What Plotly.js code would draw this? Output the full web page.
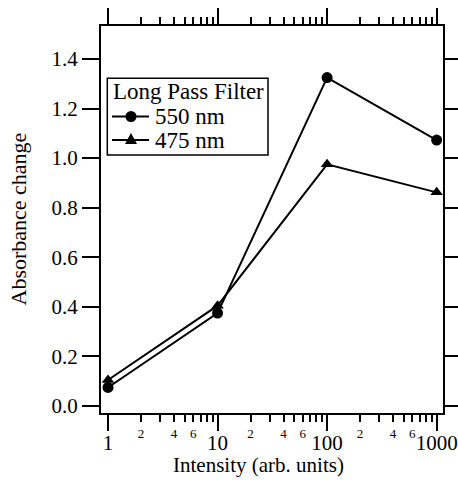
<!DOCTYPE html>
<html>
<head>
<meta charset="utf-8">
<script src="https://cdn.plot.ly/plotly-3.0.1.min.js"></script>
<style>html,body{margin:0;padding:0;background:#fff;}#chart{width:458px;height:489px;}</style>
</head>
<body>
<div id="chart"></div>
<script>
var intensity = [1, 10, 100, 1000];
var abs550 = [0.075, 0.375, 1.325, 1.073];
var abs475 = [0.105, 0.405, 0.975, 0.862];
var seriesNames = ['550 nm', '475 nm'];
var legendTitle = 'Long Pass Filter';
var yTicks = [0, 0.2, 0.4, 0.6, 0.8, 1.0, 1.2, 1.4];
var xMajorTicks = [1, 10, 100, 1000];
var xMajorLabels = ['1', '10', '100', '1000'];
var xMinorTicks = [2,3,4,5,6,7,8,9,20,30,40,50,60,70,80,90,200,300,400,500,600,700,800,900];
var xMinorLabels = ['2','','4','','6','','','','2','','4','','6','','','','2','','4','','6','','',''];

var FONT = '"Times New Roman", "Liberation Serif", serif';
var W = 458, H = 489, M = {l: 101, r: 15, t: 26, b: 76};
var PW = W - M.l - M.r, PH = H - M.t - M.b;
function px(x) { return (x - M.l) / PW; }
function py(y) { return (H - M.b - y) / PH; }

var traces = [
  {x: intensity, y: abs550, name: seriesNames[0], mode: 'lines+markers', type: 'scatter',
   line: {color: '#000', width: 2}, marker: {symbol: 'circle', size: 11, color: '#000'}},
  {x: intensity, y: abs475, name: seriesNames[1], mode: 'lines+markers', type: 'scatter',
   line: {color: '#000', width: 2}, marker: {symbol: 'triangle-up', size: 11, color: '#000'}},
  {x: intensity, y: abs550, xaxis: 'x2', mode: 'none', type: 'scatter', showlegend: false, hoverinfo: 'skip', opacity: 0},
  {x: intensity, y: abs550, xaxis: 'x3', mode: 'none', type: 'scatter', showlegend: false, hoverinfo: 'skip', opacity: 0}
];

// legend box (drawn by hand to match the tight line spacing of the original)
var shapes = [
  {type: 'rect', xref: 'paper', yref: 'paper', x0: px(107.3), x1: px(268), y0: py(155), y1: py(78.3),
   line: {color: '#000', width: 1.5}, fillcolor: '#fff', layer: 'above'},
  {type: 'line', xref: 'paper', yref: 'paper', x0: px(112), x1: px(149), y0: py(116.5), y1: py(116.5),
   line: {color: '#000', width: 2}, layer: 'above'},
  {type: 'circle', xref: 'paper', yref: 'paper', xsizemode: 'pixel', ysizemode: 'pixel',
   xanchor: px(131), yanchor: py(116.5), x0: -5.5, x1: 5.5, y0: -5.5, y1: 5.5,
   fillcolor: '#000', line: {color: '#000', width: 0}, layer: 'above'},
  {type: 'line', xref: 'paper', yref: 'paper', x0: px(112), x1: px(149), y0: py(140), y1: py(140),
   line: {color: '#000', width: 2}, layer: 'above'},
  {type: 'path', xref: 'paper', yref: 'paper', xsizemode: 'pixel', ysizemode: 'pixel',
   xanchor: px(131), yanchor: py(140), path: 'M-6,-4 L6,-4 L0,7 Z',
   fillcolor: '#000', line: {color: '#000', width: 0}, layer: 'above'}
];

var xr = [-0.064, 3.058];
var layout = {
  width: W, height: H,
  margin: M,
  paper_bgcolor: '#fff', plot_bgcolor: '#fff',
  font: {family: FONT, color: '#000', size: 21},
  showlegend: false,
  shapes: shapes,
  xaxis: {type: 'log', range: xr, tickmode: 'array', tickvals: xMajorTicks, ticktext: xMajorLabels,
    ticks: 'outside', ticklen: 16, tickwidth: 2, tickcolor: '#000', ticklabelstandoff: -6,
    showline: true, linewidth: 2, linecolor: '#000', mirror: 'ticks',
    showgrid: false, zeroline: false, tickfont: {family: FONT, size: 21, color: '#000'}},
  xaxis2: {type: 'log', range: xr, overlaying: 'x', anchor: 'y', side: 'bottom',
    tickmode: 'array', tickvals: xMinorTicks, ticktext: xMinorLabels,
    ticks: 'outside', ticklen: 8, tickwidth: 2, tickcolor: '#000',
    showline: false, showgrid: false, zeroline: false,
    tickfont: {family: FONT, size: 13, color: '#000'}},
  xaxis3: {type: 'log', range: xr, overlaying: 'x', anchor: 'y', side: 'top',
    tickmode: 'array', tickvals: xMinorTicks, showticklabels: false,
    ticks: 'outside', ticklen: 8, tickwidth: 2, tickcolor: '#000',
    showline: false, showgrid: false, zeroline: false},
  yaxis: {range: [-0.028, 1.533], tickmode: 'array', tickvals: yTicks, tickformat: '.1f',
    ticks: 'outside', ticklen: 17, tickwidth: 2, tickcolor: '#000',
    showline: true, linewidth: 2, linecolor: '#000', mirror: 'ticks',
    showgrid: false, zeroline: false, tickfont: {family: FONT, size: 21, color: '#000'}},
  annotations: [
    {text: 'Intensity (arb. units)', xref: 'paper', yref: 'paper', x: px(258), y: py(465),
     xanchor: 'center', yanchor: 'middle', showarrow: false, font: {family: FONT, size: 21, color: '#000'}},
    {text: 'Absorbance change', xref: 'paper', yref: 'paper', x: px(18), y: py(219.5), textangle: -90,
     xanchor: 'center', yanchor: 'middle', showarrow: false, font: {family: FONT, size: 22, color: '#000'}},
    {text: legendTitle, xref: 'paper', yref: 'paper', x: px(111), y: py(91),
     xanchor: 'left', yanchor: 'middle', showarrow: false, font: {family: FONT, size: 23, color: '#000'}},
    {text: seriesNames[0], xref: 'paper', yref: 'paper', x: px(153), y: py(116.5),
     xanchor: 'left', yanchor: 'middle', showarrow: false, font: {family: FONT, size: 23, color: '#000'}},
    {text: seriesNames[1], xref: 'paper', yref: 'paper', x: px(153), y: py(140),
     xanchor: 'left', yanchor: 'middle', showarrow: false, font: {family: FONT, size: 23, color: '#000'}}
  ]
};

Plotly.newPlot('chart', traces, layout, {staticPlot: true, displayModeBar: false});
</script>
</body>
</html>
